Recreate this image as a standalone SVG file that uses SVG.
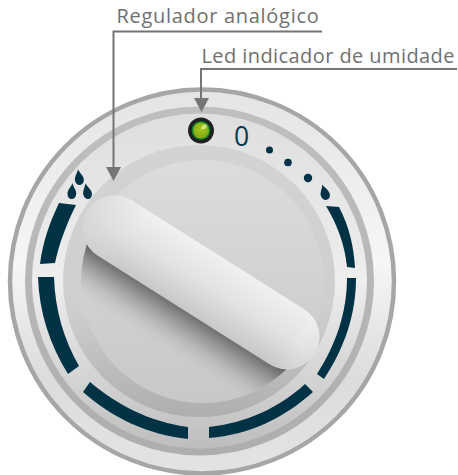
<svg xmlns="http://www.w3.org/2000/svg" width="458" height="475" viewBox="0 0 458 475">
<style>
.lbl{font-family:"Open Sans","Noto Sans",sans-serif;font-size:20px;fill:#707070;letter-spacing:.42px}
.ln{fill:none;stroke:#757575;stroke-width:2}
.ah{fill:#757575}
.mk{fill:#003246}
</style>
<defs>
<linearGradient id="gBase" x1="0" y1="0" x2="0" y2="1"><stop offset="0" stop-color="#e4e4e4"/><stop offset=".45" stop-color="#f6f6f6"/><stop offset=".75" stop-color="#dcdcdc"/><stop offset="1" stop-color="#e2e4e3"/></linearGradient>
<linearGradient id="gRing" x1="0" y1="0" x2="0" y2="1"><stop offset="0" stop-color="#bfbfbf"/><stop offset="1" stop-color="#aeaeae"/></linearGradient>
<linearGradient id="gFace" x1="0" y1="0" x2="0" y2="1"><stop offset="0" stop-color="#dedede"/><stop offset=".5" stop-color="#eeeeee"/><stop offset=".8" stop-color="#d2d2d2"/><stop offset="1" stop-color="#bcbcbc"/></linearGradient>
<linearGradient id="gDish" x1="0" y1="0" x2="0" y2="1"><stop offset="0" stop-color="#d3d3d3"/><stop offset=".6" stop-color="#cfcfcf"/><stop offset="1" stop-color="#aeaeae"/></linearGradient>
<linearGradient id="gDisc" x1="0" y1="0" x2="0" y2="1"><stop offset="0" stop-color="#dcdcdc"/><stop offset="1" stop-color="#c8c8c8"/></linearGradient>
<linearGradient id="gKnob" x1="0" y1="0" x2="0" y2="1"><stop offset="0" stop-color="#f0f0f0"/><stop offset=".5" stop-color="#e2e2e2"/><stop offset="1" stop-color="#c8c8c8"/></linearGradient>
<linearGradient id="gKnobEnd" x1="0" y1="0" x2="1" y2="0"><stop offset="0" stop-color="#d6d6d6" stop-opacity=".7"/><stop offset=".2" stop-color="#e0e0e0" stop-opacity="0"/><stop offset=".9" stop-color="#fff" stop-opacity="0"/><stop offset="1" stop-color="#d8d8d8" stop-opacity=".3"/></linearGradient>
<linearGradient id="gShade" x1="0" y1="0" x2="0" y2="1"><stop offset="0" stop-color="#5e5e60"/><stop offset=".4" stop-color="#868687" stop-opacity=".65"/><stop offset="1" stop-color="#c8c8c8" stop-opacity="0"/></linearGradient>
<radialGradient id="gLed" cx=".5" cy=".4" r=".6"><stop offset="0" stop-color="#a6c81e"/><stop offset="1" stop-color="#7fa811"/></radialGradient>
<clipPath id="cDisc"><circle cx="202.500" cy="281.500" r="121.500"/></clipPath>
<path id="drop" d="M0-9C1.500-4.500 6-1.500 6 3.200A6 6 0 0 1-6 3.200C-6-1.500-1.500-4.500 0-9Z"/>
</defs>
<g id="dial">
<circle cx="202" cy="281.500" r="192" fill="url(#gBase)" stroke="#a6a6a6" stroke-width="4.500"/>
<circle cx="199.500" cy="281" r="171" fill="url(#gFace)" stroke="url(#gRing)" stroke-width="7"/>
<circle cx="199" cy="281" r="136" fill="url(#gDish)"/>
<circle cx="202.500" cy="281.500" r="121.500" fill="url(#gDisc)"/>
</g>
<g id="scale">
<path class="mk" d="M59 203L76 205C66 225 59 244 55 263L40 264C43 241 50 222 59 203Z"/>
<path class="mk" d="M38 277L54 277C55 310 64 340 79 366L68 374C50 345 39 312 38 277Z"/>
<path class="mk" d="M90 382C117 405 150 422 188 427L188 439C148 435 111 417 83 392Z"/>
<path class="mk" d="M209 427C246 423 279 408 305 384L313 392C284 418 249 435 209 438Z"/>
<path class="mk" d="M347 278L356 278C356 315 344 349 324 379L317 374C336 345 347 312 347 278Z"/>
<path class="mk" d="M326 206L339 207C349 226 354 247 355 268L347 267C345 245 337 224 326 206Z"/>
<use href="#drop" class="mk" transform="translate(79 177) rotate(-8) scale(.74 .88)"/>
<use href="#drop" class="mk" transform="translate(72 191) rotate(3) scale(.72 .88)"/>
<use href="#drop" class="mk" transform="translate(87 191) rotate(-12) scale(.72 .88)"/>
<use href="#drop" class="mk" transform="translate(324.500 192) rotate(-16) scale(.76 .88)"/>
<circle class="mk" cx="269.500" cy="150" r="3.500"/>
<circle class="mk" cx="288" cy="162.500" r="3.800"/>
<circle class="mk" cx="308" cy="178" r="4.200"/>
<text x="241.500" y="146" text-anchor="middle" font-family="Open Sans, Noto Sans, sans-serif" font-size="26.500" font-weight="500" fill="#003a52">0</text>
</g>
<g id="regulador">
<g clip-path="url(#cDisc)"><rect x="-170" y="28" width="320" height="50" fill="url(#gShade)" transform="translate(201 282.500) rotate(32.300)"/></g>
<g transform="translate(201 282.500) rotate(32.300)">
<rect x="-134" y="-32.500" width="268" height="65" rx="32" fill="url(#gKnob)"/>
<rect x="-134" y="-32.500" width="268" height="65" rx="32" fill="url(#gKnobEnd)"/>
</g>
</g>
<g id="led">
<circle cx="201" cy="130.500" r="12" fill="#1b1d1b" stroke="#222" stroke-width="2"/>
<circle cx="201" cy="130.500" r="9.500" fill="#0f7a2c"/>
<circle cx="201" cy="130.500" r="8" fill="url(#gLed)"/>
<ellipse cx="204" cy="127" rx="3.200" ry="1.800" fill="#d2e58a" transform="rotate(-40 204 127)"/>
</g>
<g id="connectors">
<path class="ln" d="M322 31.500H113.500V168"/>
<polygon class="ah" points="106,167 121,167 113.500,181"/>
<path class="ln" d="M457 69H201V99"/>
<polygon class="ah" points="194,98 209,98 201.500,112"/>
</g>
<g id="labels">
<text class="lbl" x="116.500" y="23" style="letter-spacing:.7px">Regulador analógico</text>
<text class="lbl" x="201.500" y="63">Led indicador de umidade</text>
</g>
</svg>
